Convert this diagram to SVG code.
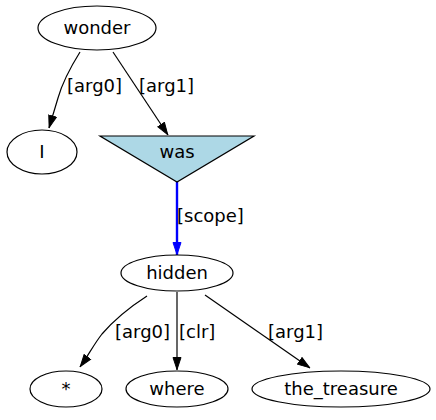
<svg xmlns="http://www.w3.org/2000/svg" width="436" height="420" viewBox="0 0 436 420">
<style>
.n{fill:none;stroke:#000;stroke-width:1.2}
.t{font-family:"DejaVu Sans",sans-serif;font-size:18px;fill:#000}
.m{text-anchor:middle}
.e{fill:none;stroke:#000;stroke-width:1.2}
.b{fill:none;stroke:#00f;stroke-width:2.4}
</style>
<defs>
<marker id="a" markerWidth="13" markerHeight="10" refX="13" refY="4.5" orient="auto" markerUnits="userSpaceOnUse" viewBox="0 0 13 9">
<path d="M0.5,0.5L12.5,4.5L0.5,8.5z" fill="#000" stroke="#000"/>
</marker>
<marker id="ab" markerWidth="13" markerHeight="10" refX="13" refY="4.5" orient="auto" markerUnits="userSpaceOnUse" viewBox="0 0 13 9">
<path d="M0.5,0.5L12.5,4.5L0.5,8.5z" fill="#00f" stroke="#00f"/>
</marker>
</defs>
<g id="edges">
<path class="e" d="M80,52C70,68 62,84 58,98C55,108 52,118 49,128" marker-end="url(#a)"/>
<text class="t" x="67" y="92">[arg0]</text>
<path class="e" d="M113,52L168,135" marker-end="url(#a)"/>
<text class="t" x="139" y="92">[arg1]</text>
<path class="b" d="M177,182L177,255" marker-end="url(#ab)"/>
<text class="t" x="177" y="222">[scope]</text>
<path class="e" d="M147,296C130,307 114,320 102,334C94,344 88,356 80,367" marker-end="url(#a)"/>
<text class="t" x="115" y="338">[arg0]</text>
<path class="e" d="M177,292L177,370" marker-end="url(#a)"/>
<text class="t" x="179" y="338">[clr]</text>
<path class="e" d="M205,295L310,368" marker-end="url(#a)"/>
<text class="t" x="268" y="338">[arg1]</text>
</g>
<g id="wonder"><ellipse class="n" cx="97" cy="28" rx="59" ry="22"/><text class="t m" x="97" y="34">wonder</text></g>
<g id="I"><ellipse class="n" cx="42" cy="152" rx="35" ry="22"/><text class="t m" x="42" y="158">I</text></g>
<g id="was"><polygon points="100,136 254,136 177,182" fill="#add8e6" stroke="#000" stroke-width="1.2"/><text class="t m" x="177" y="158">was</text></g>
<g id="hidden"><ellipse class="n" cx="177" cy="273" rx="56" ry="18"/><text class="t m" x="177" y="279">hidden</text></g>
<g id="star"><ellipse class="n" cx="66" cy="389" rx="36" ry="18"/><text class="t m" x="66" y="395">*</text></g>
<g id="where"><ellipse class="n" cx="177" cy="389" rx="51" ry="18"/><text class="t m" x="177" y="395">where</text></g>
<g id="the_treasure"><ellipse class="n" cx="341" cy="389" rx="89" ry="18"/><text class="t m" x="341" y="395">the_treasure</text></g>
</svg>
